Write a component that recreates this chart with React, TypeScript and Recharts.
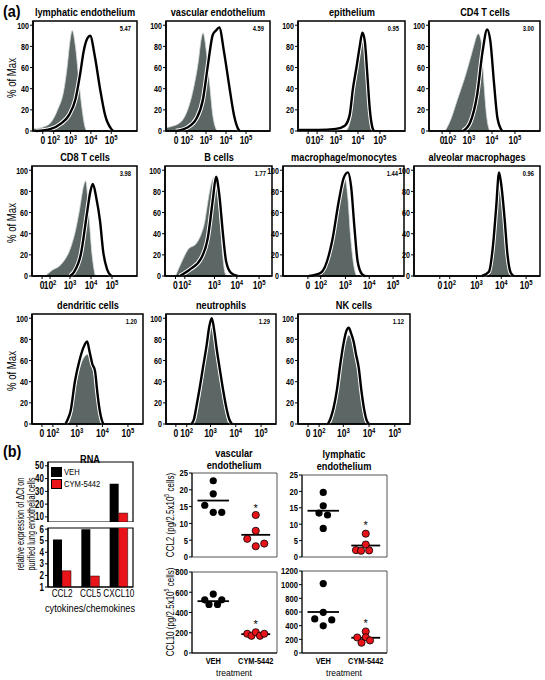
import React from "react";
import {
  ComposedChart, Area, Line, XAxis, YAxis, ReferenceArea, ReferenceLine,
  BarChart, Bar, ScatterChart, Scatter,
} from "recharts";

const FONT = '"Liberation Sans", Arial, sans-serif';
const GRAY = "#5b6665";
const RED = "#e8141a";
const SQ = 0.8; // horizontal squeeze to mimic a condensed face

// ---- (a) flow histograms: x = fluorescence (log decades), y = % of max ----
const HIST_TITLES = [
  "lymphatic endothelium", "vascular endothelium", "epithelium", "CD4 T cells",
  "CD8 T cells", "B cells", "macrophage/monocytes", "alveolar macrophages",
  "dendritic cells", "neutrophils", "NK cells",
];
const HIST_RATIOS = ["5.47", "4.59", "0.95", "3.00", "3.98", "1.77", "1.44", "0.96", "1.20", "1.29", "1.12"];
const PCT_TICKS = [0, 20, 40, 60, 80, 100];
const LOG_TICK_LABELS = [["0", ""], ["10", "2"], ["10", "3"], ["10", "4"], ["10", "5"]];
// biexponential display: "0" and 10^2 sit at compressed positions
const LOG_TICK_POS = [
  [1.63, 2.17, 3, 4, 5], [1.5, 2.05, 3, 4, 5], [1.73, 2.14, 3, 4, 5], [1.83, 2.17, 3, 4, 5],
  [1.67, 2.05, 3, 4, 5], [1.25, 1.67, 3, 4, 5], [1.42, 1.96, 3, 4, 5], [1.52, 1.92, 3, 4, 5],
  [1.63, 2.06, 3, 4, 5], [1.63, 2.06, 3, 4, 5], [1.63, 2.06, 3, 4, 5],
];
const LOG_DOMAINS = [
  [1.15, 6.27], [1.0, 6.2], [1.27, 6.14], [1.26, 6.09],
  [1.19, 6.19], [0.78, 5.58], [0.375, 5.46], [0.48, 5.56],
  [1.24, 5.59], [1.24, 5.59], [1.24, 5.59],
];

const LYMPH_SHADED = [[1.15, 2], [1.7, 4], [2.03, 8], [2.36, 20], [2.68, 40], [2.84, 62], [2.97, 85], [3.08, 95], [3.24, 80], [3.4, 50], [3.57, 20], [3.72, 3], [3.8, 0]];
const LYMPH_OPEN = [[1.3, 0], [2.03, 2], [2.52, 7], [2.92, 15], [3.24, 30], [3.48, 55], [3.64, 75], [3.84, 88], [3.96, 90], [4.2, 70], [4.45, 40], [4.7, 15], [5.0, 2], [5.1, 0]];
const VASC_SHADED = [[1.0, 3], [1.22, 4], [1.71, 8], [2.04, 18], [2.37, 40], [2.61, 65], [2.77, 88], [2.85, 93], [3.02, 75], [3.18, 45], [3.34, 15], [3.5, 2], [3.55, 0]];
const VASC_OPEN = [[1.5, 0], [2.04, 3], [2.53, 12], [2.85, 30], [3.1, 63], [3.34, 91], [3.5, 95], [3.66, 98], [3.9, 75], [4.15, 44], [4.4, 15], [4.64, 1], [4.7, 0]];
const EPI_SHADED = [[3.45, 0], [3.63, 8], [3.78, 30], [3.94, 55], [4.08, 75], [4.2, 90], [4.31, 80], [4.42, 45], [4.54, 12], [4.63, 0]];
const EPI_OPEN = [[1.27, 1], [2.2, 1], [3.0, 2], [3.4, 5], [3.62, 15], [3.77, 40], [3.93, 60], [4.08, 80], [4.2, 93], [4.31, 85], [4.42, 55], [4.54, 20], [4.66, 3], [4.73, 0]];
const CD4_SHADED = [[1.96, 0], [2.19, 10], [2.5, 30], [2.81, 50], [3.05, 68], [3.2, 80], [3.4, 92], [3.53, 85], [3.65, 45], [3.78, 12], [3.9, 0]];
const CD4_OPEN = [[2.74, 0], [3.05, 8], [3.36, 35], [3.59, 75], [3.79, 96], [3.93, 85], [4.09, 45], [4.24, 12], [4.44, 0]];
const CD8_SHADED = [[1.82, 0], [2.12, 5], [2.58, 11], [3.05, 28], [3.25, 42], [3.43, 60], [3.66, 86], [3.75, 90], [3.89, 60], [4.05, 20], [4.2, 0]];
const CD8_OPEN = [[3.0, 0], [3.2, 4], [3.51, 20], [3.82, 61], [3.97, 80], [4.09, 87], [4.25, 74], [4.43, 52], [4.58, 23], [4.77, 6], [4.97, 0]];
const B_SHADED = [[1.25, 0], [1.52, 13], [1.81, 25], [2.19, 31], [2.41, 40], [2.56, 51], [2.7, 70], [2.88, 89], [3.0, 94], [3.15, 80], [3.27, 48], [3.37, 20], [3.47, 3], [3.55, 0]];
const B_OPEN = [[1.44, 0], [1.89, 6], [2.41, 17], [2.7, 36], [2.93, 73], [3.07, 94], [3.22, 76], [3.37, 42], [3.52, 14], [3.74, 3], [4.04, 0]];
const MAC_SHADED = [[1.4, 0], [1.96, 5], [2.38, 30], [2.65, 64], [2.86, 90], [2.96, 94], [3.1, 74], [3.21, 39], [3.35, 10], [3.46, 0]];
const MAC_OPEN = [[1.47, 0], [1.96, 3], [2.44, 33], [2.72, 71], [2.93, 93], [3.1, 98], [3.24, 84], [3.38, 45], [3.51, 14], [3.69, 2], [3.83, 0]];
const ALV_SHADED = [[3.38, 0], [3.58, 7], [3.72, 42], [3.84, 74], [3.93, 91], [4.04, 71], [4.16, 36], [4.29, 7], [4.38, 0]];
const ALV_OPEN = [[3.22, 0], [3.5, 4], [3.67, 30], [3.79, 64], [3.91, 98], [4.01, 84], [4.13, 55], [4.25, 20], [4.38, 3], [4.5, 0]];
const DC_SHADED = [[2.65, 0], [2.75, 6], [2.92, 32], [3.1, 52], [3.25, 62], [3.45, 66], [3.55, 58], [3.7, 44], [3.8, 24], [3.9, 6], [3.97, 0]];
const DC_OPEN = [[2.55, 0], [2.65, 5], [2.75, 12], [2.92, 40], [3.1, 60], [3.25, 72], [3.4, 78], [3.5, 68], [3.6, 57], [3.71, 50], [3.8, 30], [3.9, 12], [4.0, 2], [4.05, 0]];
const NEU_SHADED = [[2.35, 0], [2.45, 8], [2.6, 30], [2.7, 45], [2.85, 70], [2.95, 86], [3.05, 92], [3.15, 80], [3.25, 62], [3.36, 45], [3.5, 25], [3.63, 8], [3.72, 0]];
const NEU_OPEN = [[2.25, 0], [2.35, 5], [2.43, 15], [2.6, 38], [2.7, 53], [2.85, 75], [2.95, 92], [3.05, 100], [3.15, 88], [3.25, 70], [3.36, 53], [3.5, 32], [3.63, 15], [3.75, 4], [3.85, 0]];
const NK_SHADED = [[2.5, 0], [2.62, 10], [2.75, 26], [2.88, 50], [3.0, 68], [3.12, 80], [3.21, 84], [3.3, 82], [3.4, 72], [3.5, 58], [3.6, 45], [3.7, 25], [3.8, 8], [3.88, 0]];
const NK_OPEN = [[2.4, 0], [2.5, 5], [2.62, 15], [2.75, 32], [2.88, 56], [3.0, 75], [3.12, 88], [3.21, 91], [3.3, 86], [3.4, 78], [3.5, 65], [3.6, 53], [3.7, 32], [3.8, 15], [3.9, 4], [4.0, 0]];

const SHADED = [LYMPH_SHADED, VASC_SHADED, EPI_SHADED, CD4_SHADED, CD8_SHADED, B_SHADED, MAC_SHADED, ALV_SHADED, DC_SHADED, NEU_SHADED, NK_SHADED];
const OPEN = [LYMPH_OPEN, VASC_OPEN, EPI_OPEN, CD4_OPEN, CD8_OPEN, B_OPEN, MAC_OPEN, ALV_OPEN, DC_OPEN, NEU_OPEN, NK_OPEN];

// ---- (b) RNA bars (broken axis) ----
const RNA_GENES = ["CCL2", "CCL5", "CXCL10"];
const RNA_SERIES = ["VEH", "CYM-5442"];
const RNA_VEH = [5.1, 6.0, 36];
const RNA_CYM = [2.4, 1.95, 13];
const RNA_UPPER_TICKS = [10, 20, 30, 40, 50];
const RNA_LOWER_TICKS = [1, 2, 3, 4, 5, 6];
const RNA_BREAK = 6;

// ---- (b) protein dot plots ----
const TREATMENTS = ["VEH", "CYM-5442"];
const VASC_CCL2_VEH = [22.7, 18.8, 15.4, 13.3, 13.3];
const VASC_CCL2_CYM = [12.5, 7.8, 5.4, 3.2, 4.0];
const VASC_CCL2_MEANS = [16.8, 6.6];
const VASC_CCL10_VEH = [582, 525, 525, 480, 480];
const VASC_CCL10_CYM = [190, 170, 205, 170, 190];
const VASC_CCL10_MEANS = [512, 186];
const LYMPH_CCL2_VEH = [19.7, 15.6, 13.4, 12.8, 8.7];
const LYMPH_CCL2_CYM = [7.1, 3.8, 2.1, 1.9, 2.0];
const LYMPH_CCL2_MEANS = [14.1, 3.5];
const LYMPH_CCL10_VEH = [1016, 595, 498, 484, 397];
const LYMPH_CCL10_CYM = [315, 227, 230, 150, 184];
const LYMPH_CCL10_MEANS = [600, 223];
const STARS = [15, 300, 10.2, 450];

// layout
const HIST_BOXES = [
  { left: 33, top: 21, w: 104 }, { left: 166, top: 21, w: 104 }, { left: 298, top: 21, w: 107 }, { left: 429, top: 21, w: 111 },
  { left: 32, top: 166, w: 105 }, { left: 165, top: 166, w: 107 }, { left: 283, top: 166, w: 121 }, { left: 414, top: 166, w: 126 },
  { left: 32, top: 314, w: 111 }, { left: 166, top: 314, w: 110 }, { left: 298, top: 314, w: 112 },
];
const HIST_H = 110;
const JIT_A = [0, 0, -0.2, 0, 0.2];
const JIT_B = [0, 0, -0.1, 0.1, 0];
const JIT_C = [0, 0, -0.23, -0.11, 0.08];
const JIT_D = [0, -0.2, 0, -0.1, 0.1];

function Txt({ x, y, size = 11, bold = false, rotate = false, anchor = "middle", sx = SQ, children }: any) {
  const tx = anchor === "middle" ? "-50%" : anchor === "end" ? "-100%" : "0";
  const origin = anchor === "middle" || rotate ? "center" : anchor === "end" ? "right center" : "left center";
  const squeeze = sx === 1 ? "" : ` scaleX(${sx})`;
  return (
    <div style={{
      position: "absolute", left: x, top: y, fontFamily: FONT, fontSize: size,
      fontWeight: bold ? 700 : 400, whiteSpace: "nowrap", lineHeight: 1, color: "#000",
      transformOrigin: origin,
      transform: `translate(${tx}, -50%)${rotate ? " rotate(-90deg)" : ""}${squeeze}`,
    }}>{children}</div>
  );
}

function SText({ x, y, anchor = "middle", size = 10, bold = false, sx = SQ, children }: any) {
  return (
    <text transform={`translate(${x},${y}) scale(${sx},1)`} textAnchor={anchor} fontSize={size}
      fontWeight={bold ? 700 : 400} fontFamily={FONT} fill="#000">{children}</text>
  );
}

function YTick({ x, y, payload, size = 10, bold = true, sx = 0.8 }: any) {
  return <SText x={x + 1} y={y + size * 0.36} anchor="end" size={size} bold={bold} sx={sx}>{payload.value}</SText>;
}

function CatTick({ x, y, payload, size = 10, bold = false, labels }: any) {
  const text = labels ? labels[payload.value - 1] : payload.value;
  return <SText x={x} y={y + size * 0.9} size={size} bold={bold} sx={0.78}>{text}</SText>;
}

function LogTick({ x, y, index }: any) {
  const [base, exp] = LOG_TICK_LABELS[index] || ["", ""];
  return (
    <SText x={x} y={y + 8} size={10} bold sx={0.85}>
      {base}
      {exp ? <tspan dy={-4} fontSize={7}>{exp}</tspan> : null}
    </SText>
  );
}

const toXY = (arr: number[][]) => arr.map(([x, y]) => ({ x, y }));

function HistPanel({ i }: { i: number }) {
  const box = HIST_BOXES[i];
  const [lo, hi] = LOG_DOMAINS[i];
  const YW = 30, MT = 4, XH = 16, MR = 4;
  const shaded = toXY(SHADED[i]);
  const open = toXY(OPEN[i]);
  const col = i < 4 ? i : i < 8 ? i - 4 : i - 8;
  return (
    <>
      <Txt x={box.left + box.w / 2} y={box.top - 8} size={11.5} bold>{HIST_TITLES[i]}</Txt>
      <div style={{ position: "absolute", left: box.left - YW, top: box.top - MT }}>
        <ComposedChart width={box.w + YW + MR} height={HIST_H + MT + XH} margin={{ top: MT, right: MR, left: 0, bottom: 0 }}>
          <XAxis type="number" dataKey="x" domain={[lo, hi]} ticks={LOG_TICK_POS[i]} interval={0}
            tick={<LogTick />} tickSize={3} height={XH} allowDataOverflow
            axisLine={{ stroke: "#000", strokeWidth: 1.5 }} tickLine={{ stroke: "#000" }} />
          <YAxis type="number" domain={[0, 104]} ticks={PCT_TICKS} interval={0} width={YW} tickSize={3}
            tick={<YTick size={9.5} sx={0.75} />}
            axisLine={{ stroke: "#000", strokeWidth: 1.5 }} tickLine={{ stroke: "#000" }} />
          <Area data={shaded} dataKey="y" type="monotone" fill={GRAY} fillOpacity={1}
            stroke="#d4dada" strokeWidth={0.8} isAnimationActive={false} />
          <Line data={open} dataKey="y" type="monotone" stroke="#fff" strokeWidth={4.4} dot={false} isAnimationActive={false} />
          <Line data={open} dataKey="y" type="monotone" stroke="#000" strokeWidth={2.4} dot={false} isAnimationActive={false} />
          <ReferenceArea x1={lo} x2={hi} y1={0} y2={104} fill="none" stroke="#000" strokeWidth={1.5} ifOverflow="visible" />
        </ComposedChart>
      </div>
      <Txt x={box.left + box.w - 6} y={box.top + 8} size={8} bold anchor="end" sx={0.72}>{HIST_RATIOS[i]}</Txt>
      {col === 0 ? <Txt x={12} y={box.top + HIST_H / 2 + 2} size={12} rotate>% of Max</Txt> : null}
    </>
  );
}

function RnaChart() {
  const upper = RNA_GENES.map((g, k) => ({
    gene: g,
    veh: RNA_VEH[k] > RNA_BREAK ? RNA_VEH[k] : null,
    cym: RNA_CYM[k] > RNA_BREAK ? RNA_CYM[k] : null,
  }));
  const lower = RNA_GENES.map((g, k) => ({ gene: g, veh: RNA_VEH[k], cym: RNA_CYM[k] }));
  const W = 85, YW = 30, XH = 18, MT = 6;
  return (
    <>
      <Txt x={90} y={460} size={11.5} bold>RNA</Txt>
      <div style={{ position: "absolute", left: 48 - YW, top: 462 - MT }}>
        <BarChart width={W + YW + 2} height={60 + MT} data={upper} margin={{ top: MT, right: 2, left: 0, bottom: 0 }} barGap={0} barSize={9}>
          <XAxis dataKey="gene" hide />
          <YAxis domain={[6, 53]} ticks={RNA_UPPER_TICKS} interval={0} width={YW} tickSize={3} tick={<YTick size={10} />}
            axisLine={{ stroke: "#000", strokeWidth: 1.2 }} tickLine={{ stroke: "#000" }} allowDataOverflow />
          <Bar dataKey="veh" name={RNA_SERIES[0]} fill="#000" isAnimationActive={false} />
          <Bar dataKey="cym" name={RNA_SERIES[1]} fill={RED} stroke="#000" strokeWidth={0.5} isAnimationActive={false} />
          <ReferenceArea y1={6} y2={53} fill="none" stroke="#000" strokeWidth={1.2} ifOverflow="visible" />
        </BarChart>
      </div>
      <div style={{ position: "absolute", left: 48 - YW, top: 528 - MT }}>
        <BarChart width={W + YW + 2} height={59 + MT + XH} data={lower} margin={{ top: MT, right: 2, left: 0, bottom: 0 }} barGap={0} barSize={9}>
          <XAxis dataKey="gene" height={XH} tickLine={false} tickSize={0} tickMargin={1} interval={0}
            tick={<CatTick size={10.5} />} axisLine={{ stroke: "#000", strokeWidth: 1.2 }} />
          <YAxis domain={[1, 6.1]} ticks={RNA_LOWER_TICKS} interval={0} width={YW} tickSize={3} tick={<YTick size={10} />}
            axisLine={{ stroke: "#000", strokeWidth: 1.2 }} tickLine={{ stroke: "#000" }} allowDataOverflow />
          <Bar dataKey="veh" fill="#000" isAnimationActive={false} />
          <Bar dataKey="cym" fill={RED} stroke="#000" strokeWidth={0.5} isAnimationActive={false} />
          <ReferenceArea y1={1} y2={6.1} fill="none" stroke="#000" strokeWidth={1.2} ifOverflow="visible" />
        </BarChart>
      </div>
      {RNA_SERIES.map((name, k) => (
        <React.Fragment key={name}>
          <div style={{ position: "absolute", left: 52, top: 468 + k * 12, width: 9, height: 8, background: k ? RED : "#000", outline: "0.5px solid #000" }} />
          <Txt x={64} y={472 + k * 12} size={9.5} anchor="start">{name}</Txt>
        </React.Fragment>
      ))}
      <Txt x={20} y={524} size={11} rotate sx={0.66}>relative expression of ΔCt on</Txt>
      <Txt x={31} y={524} size={11} rotate sx={0.66}>purified lung endothelial cells</Txt>
      <Txt x={90} y={609} size={11.5} sx={0.8}>cytokines/chemokines</Txt>
    </>
  );
}

function Dot({ cx, cy, fill }: any) {
  return <circle cx={cx} cy={cy} r={3.6} fill={fill} stroke="#000" strokeWidth={fill === "#000" ? 0 : 0.8} />;
}
function Star({ cx, cy }: any) {
  return <text x={cx} y={cy + 5} textAnchor="middle" fontSize={11} fontFamily={FONT} fill="#000">*</text>;
}

function DotPlot({ left, top, h, max, ticks, veh, cym, means, star, jit, labels }: any) {
  const YW = 28, MT = 6, XH = labels ? 16 : 0, MB = labels ? 0 : 6, MR = 3;
  const vehPts = veh.map((y: number, k: number) => ({ x: 1 + jit[0][k], y }));
  const cymPts = cym.map((y: number, k: number) => ({ x: 2 + jit[1][k], y }));
  return (
    <div style={{ position: "absolute", left: left - YW, top: top - MT }}>
      <ScatterChart width={85 + YW + MR} height={h + MT + XH + MB} margin={{ top: MT, right: MR, left: 0, bottom: MB }}>
        <XAxis type="number" dataKey="x" domain={[0.5, 2.5]} ticks={[1, 2]} interval={0} height={XH}
          hide={!labels} tickLine={false} tickSize={0} tickMargin={2}
          tick={<CatTick size={9.5} bold labels={TREATMENTS} />}
          axisLine={{ stroke: "#000", strokeWidth: 1 }} />
        <YAxis type="number" dataKey="y" domain={[0, max]} ticks={ticks} interval={0} width={YW} tickSize={3}
          tick={<YTick size={9.5} />}
          axisLine={{ stroke: "#000", strokeWidth: 1 }} tickLine={{ stroke: "#000" }} />
        <ReferenceArea x1={0.5} x2={2.5} y1={0} y2={max} fill="none" stroke="#555" strokeWidth={1} ifOverflow="visible" />
        <ReferenceLine segment={[{ x: 0.63, y: means[0] }, { x: 1.37, y: means[0] }]} stroke="#000" strokeWidth={1.8} />
        <ReferenceLine segment={[{ x: 1.66, y: means[1] }, { x: 2.34, y: means[1] }]} stroke="#000" strokeWidth={1.8} />
        <Scatter data={vehPts} fill="#000" shape={<Dot />} isAnimationActive={false} />
        <Scatter data={cymPts} fill={RED} shape={<Dot />} isAnimationActive={false} />
        <Scatter data={[{ x: 2, y: star }]} shape={<Star />} isAnimationActive={false} />
      </ScatterChart>
    </div>
  );
}

export default function App() {
  return (
    <div style={{ position: "absolute", left: 0, top: 0, width: 545, height: 680, background: "#fff", overflow: "hidden" }}>
      <Txt x={3} y={12} size={16} bold anchor="start" sx={0.9}>(a)</Txt>
      {HIST_TITLES.map((_, i) => <HistPanel key={i} i={i} />)}

      <Txt x={3} y={452} size={16} bold anchor="start" sx={0.9}>(b)</Txt>
      <RnaChart />

      <Txt x={234} y={454} size={11.5} bold>vascular</Txt>
      <Txt x={234} y={466} size={11.5} bold>endothelium</Txt>
      <Txt x={344} y={455} size={11.5} bold>lymphatic</Txt>
      <Txt x={344} y={467} size={11.5} bold>endothelium</Txt>

      <DotPlot left={192} top={473} h={84} max={25} ticks={[0, 5, 10, 15, 20, 25]}
        veh={VASC_CCL2_VEH} cym={VASC_CCL2_CYM} means={VASC_CCL2_MEANS} star={STARS[0]} jit={[JIT_A, JIT_A]} />
      <DotPlot left={192} top={572} h={81} max={800} ticks={[0, 200, 400, 600, 800]} labels
        veh={VASC_CCL10_VEH} cym={VASC_CCL10_CYM} means={VASC_CCL10_MEANS} star={STARS[1]} jit={[[0, -0.2, 0.2, -0.1, 0.1], [-0.2, -0.1, 0, 0.1, 0.2]]} />
      <DotPlot left={302} top={475} h={82} max={25} ticks={[0, 5, 10, 15, 20, 25]}
        veh={LYMPH_CCL2_VEH} cym={LYMPH_CCL2_CYM} means={LYMPH_CCL2_MEANS} star={STARS[2]} jit={[JIT_B, JIT_C]} />
      <DotPlot left={302} top={571} h={82} max={1200} ticks={[0, 200, 400, 600, 800, 1000, 1200]} labels
        veh={LYMPH_CCL10_VEH} cym={LYMPH_CCL10_CYM} means={LYMPH_CCL10_MEANS} star={STARS[3]} jit={[[0, 0, -0.2, 0.2, 0], JIT_D]} />

      <Txt x={170} y={515} size={10} rotate sx={0.8}>CCL2 (pg/2.5x10<sup style={{ fontSize: 6.5 }}>5</sup> cells)</Txt>
      <Txt x={170} y={612} size={10} rotate sx={0.8}>CCL10 (pg/2.5x10<sup style={{ fontSize: 6.5 }}>5</sup> cells)</Txt>
      <Txt x={234} y={673} size={8.5} sx={1}>treatment</Txt>
      <Txt x={344} y={673} size={8.5} sx={1}>treatment</Txt>
    </div>
  );
}
